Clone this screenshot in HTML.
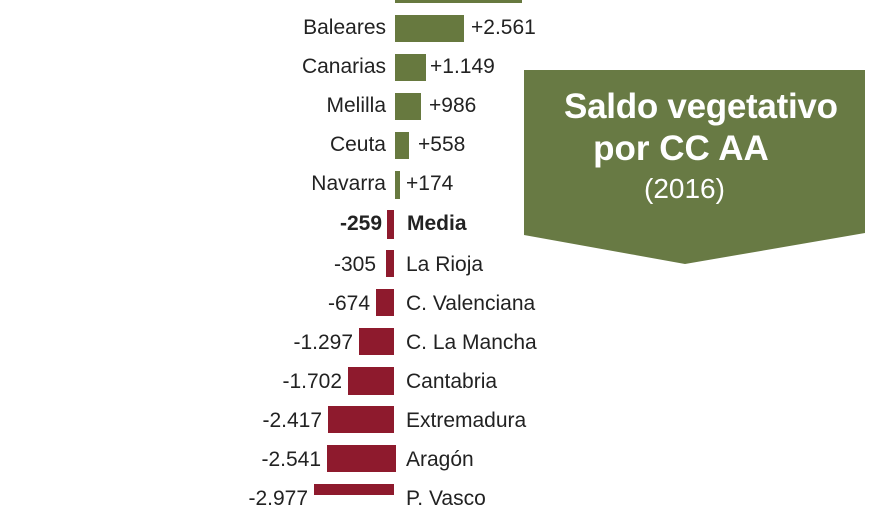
<!DOCTYPE html>
<html><head><meta charset="utf-8"><style>
body{margin:0;width:880px;height:495px;overflow:hidden;background:#fff;position:relative;font-family:"Liberation Sans",sans-serif;color:#222}
.b{position:absolute}
.g{background:#67793f}.r{background:#8e1a2d}
.t{position:absolute;font-size:21px;line-height:28px;white-space:nowrap}
.R{text-align:right}
</style></head><body>
<div class="b g" style="left:395px;top:0;width:127px;height:3px"></div>

<div class="b g" style="left:395px;top:15px;width:69px;height:27px"></div>
<div class="t R" style="right:494px;top:14px">Baleares</div><div class="t" style="left:471px;top:14px">+2.561</div>
<div class="b g" style="left:395px;top:54px;width:31px;height:27px"></div>
<div class="t R" style="right:494px;top:53px">Canarias</div><div class="t" style="left:430px;top:53px">+1.149</div>
<div class="b g" style="left:395px;top:93px;width:26px;height:27px"></div>
<div class="t R" style="right:494px;top:92px">Melilla</div><div class="t" style="left:429px;top:92px">+986</div>
<div class="b g" style="left:395px;top:132px;width:14px;height:27px"></div>
<div class="t R" style="right:494px;top:131px">Ceuta</div><div class="t" style="left:418px;top:131px">+558</div>
<div class="b g" style="left:395px;top:171px;width:5px;height:28px"></div>
<div class="t R" style="right:494px;top:170px">Navarra</div><div class="t" style="left:406px;top:170px">+174</div>

<div class="b r" style="left:387px;top:210px;width:7px;height:29px"></div>
<div class="t R" style="right:498px;top:210px;font-weight:bold">-259</div><div class="t" style="left:407px;top:210px;font-weight:bold">Media</div>

<div class="b r" style="left:386px;top:250px;width:8px;height:27px"></div>
<div class="t R" style="right:504px;top:251px">-305</div><div class="t" style="left:406px;top:251px">La Rioja</div>
<div class="b r" style="left:376px;top:289px;width:18px;height:27px"></div>
<div class="t R" style="right:510px;top:290px">-674</div><div class="t" style="left:406px;top:290px">C. Valenciana</div>
<div class="b r" style="left:359px;top:328px;width:35px;height:27px"></div>
<div class="t R" style="right:527px;top:329px">-1.297</div><div class="t" style="left:406px;top:329px">C. La Mancha</div>
<div class="b r" style="left:348px;top:367px;width:46px;height:28px"></div>
<div class="t R" style="right:538px;top:368px">-1.702</div><div class="t" style="left:406px;top:368px">Cantabria</div>
<div class="b r" style="left:328px;top:406px;width:66px;height:27px"></div>
<div class="t R" style="right:558px;top:407px">-2.417</div><div class="t" style="left:406px;top:407px">Extremadura</div>
<div class="b r" style="left:327px;top:445px;width:69px;height:27px"></div>
<div class="t R" style="right:559px;top:446px">-2.541</div><div class="t" style="left:406px;top:446px">Aragón</div>
<div class="b r" style="left:314px;top:484px;width:80px;height:11px"></div>
<div class="t R" style="right:572px;top:485px">-2.977</div><div class="t" style="left:406px;top:485px">P. Vasco</div>

<svg class="b" style="left:0;top:0" width="880" height="495">
<polygon points="524,70 865,70 865,233 685,264 524,235" fill="#687a44"/>
<text x="701" y="118" text-anchor="middle" font-family="Liberation Sans" font-weight="bold" font-size="35" fill="#fff" textLength="274">Saldo vegetativo</text>
<text x="681" y="160" text-anchor="middle" font-family="Liberation Sans" font-weight="bold" font-size="35" fill="#fff">por CC AA</text>
<text x="644" y="198" font-family="Liberation Sans" font-size="28" fill="#fff">(2016)</text>
</svg>
</body></html>
